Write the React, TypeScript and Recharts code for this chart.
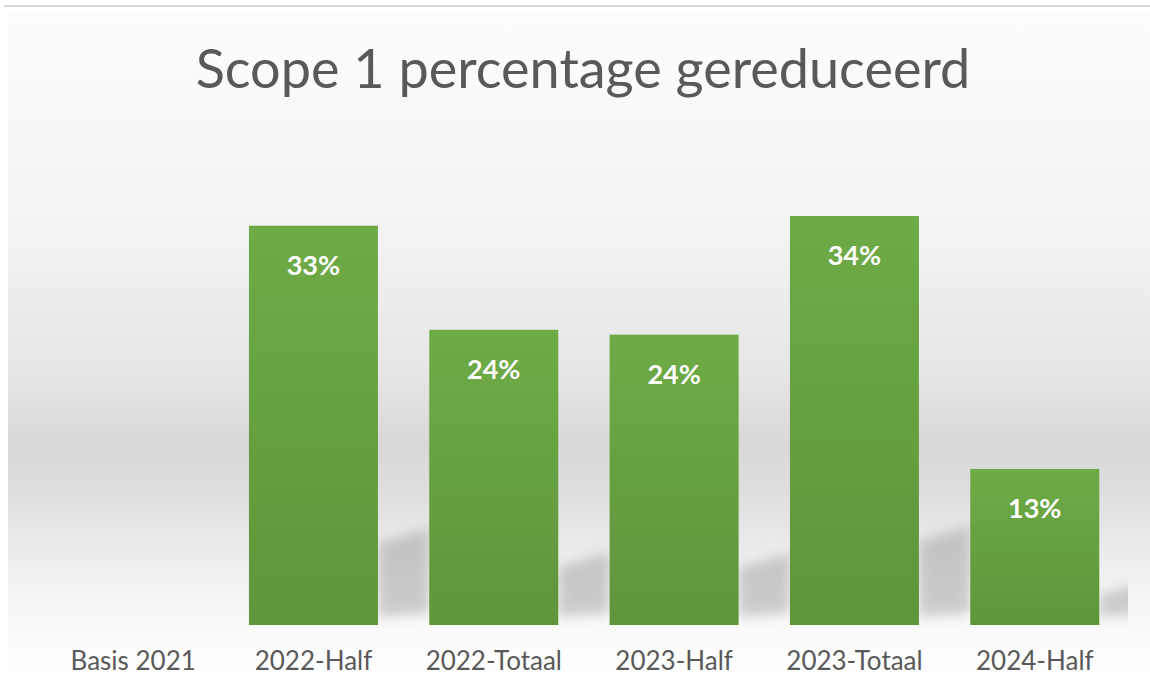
import React from 'react';
import { BarChart, Bar, XAxis, YAxis, LabelList } from 'recharts';

// Scope 1 reductie t.o.v. basisjaar 2021
const categories = ['Basis 2021', '2022-Half', '2022-Totaal', '2023-Half', '2023-Totaal', '2024-Half'];
const reduced = [0, 0.33, 0.244, 0.24, 0.338, 0.129];

const data = categories.map((name, i) => ({ name, value: reduced[i] }));

const TEXT = '#595959';
const FONT = 'Lato, "Open Sans", sans-serif';
const W = 1150;
const H = 676;
const MARGIN = { top: 141, right: 25, left: 43, bottom: 0 };

// bar + zachte schaduw rechts (zoals de Excel-stijl)
function ShadowBar(props: any) {
  const { x, y, width, height } = props;
  if (!height || height <= 0) return null;
  const b = y + height;
  const r = x + width;
  const sh = Math.max(40, height * 0.23);
  const sw = width * 0.4;
  return (
    <g>
      <g clipPath="url(#plotClip)">
        <polygon
          points={`${r},${b - sh + 10} ${r + sw},${b - sh - 5} ${r + sw},${b - 12} ${r},${b - 8}`}
          fill="#8a8a8a"
          opacity={0.4}
          filter="url(#barShadow)"
        />
      </g>
      <rect x={x} y={y} width={width} height={height} fill="url(#barGreen)" />
    </g>
  );
}

function CatTick(props: any) {
  const { x, y, payload } = props;
  return (
    <text x={x} y={y} dy={37} textAnchor="middle" fill={TEXT}
      fontSize={26} fontFamily={FONT}>
      {payload.value}
    </text>
  );
}

export default function App() {
  return (
    <div style={{ position: 'absolute', left: 0, top: 0, width: W, height: H, background: '#fff', overflow: 'hidden' }}>
      {/* bovenrand */}
      <div style={{ position: 'absolute', left: 4, top: 5, width: 1146, height: 2, background: '#d9d9d9' }} />
      {/* achtergrondverloop */}
      <div style={{
        position: 'absolute', left: 8, top: 12, width: 1142, height: 664,
        background: 'linear-gradient(to bottom, #fdfdfd 0px, #f9f9f9 90px, #f3f3f3 220px, #e6e6e6 360px, #d8d8d8 432px, #dedede 480px, #ececec 540px, #f6f6f6 590px, #fcfcfc 630px, #ffffff 664px)',
      }} />
      <div style={{
        position: 'absolute', left: 0, top: 35, width: 1166, textAlign: 'center',
        fontFamily: FONT, fontSize: 54, color: TEXT,
      }}>
        Scope 1 percentage gereduceerd
      </div>
      <div style={{ position: 'absolute', left: 0, top: 0 }}>
        <BarChart width={W} height={H} data={data} margin={MARGIN} barCategoryGap="14.2%">
          <defs>
            <linearGradient id="barGreen" x1="0" y1="0" x2="0" y2="1">
              <stop offset="0%" stopColor="#6eab46" />
              <stop offset="100%" stopColor="#5e963b" />
            </linearGradient>
            <filter id="barShadow" x="-50%" y="-50%" width="200%" height="200%">
              <feGaussianBlur stdDeviation="6" />
            </filter>
            <clipPath id="plotClip">
              <rect x={0} y={0} width={W - MARGIN.right + 3} height={H} />
            </clipPath>
          </defs>
          <XAxis dataKey="name" height={51} axisLine={false} tickLine={false} tick={<CatTick />} interval={0} />
          <YAxis hide domain={[0, 0.4]} />
          <Bar dataKey="value" shape={<ShadowBar />} isAnimationActive={false}>
            <LabelList dataKey="value" position="insideTop" offset={30}
              formatter={(v: any) => (v > 0 ? `${Math.round(v * 100)}%` : '')}
              fill="#ffffff" fontSize={27} fontWeight={700} fontFamily={FONT} />
          </Bar>
        </BarChart>
      </div>
    </div>
  );
}
